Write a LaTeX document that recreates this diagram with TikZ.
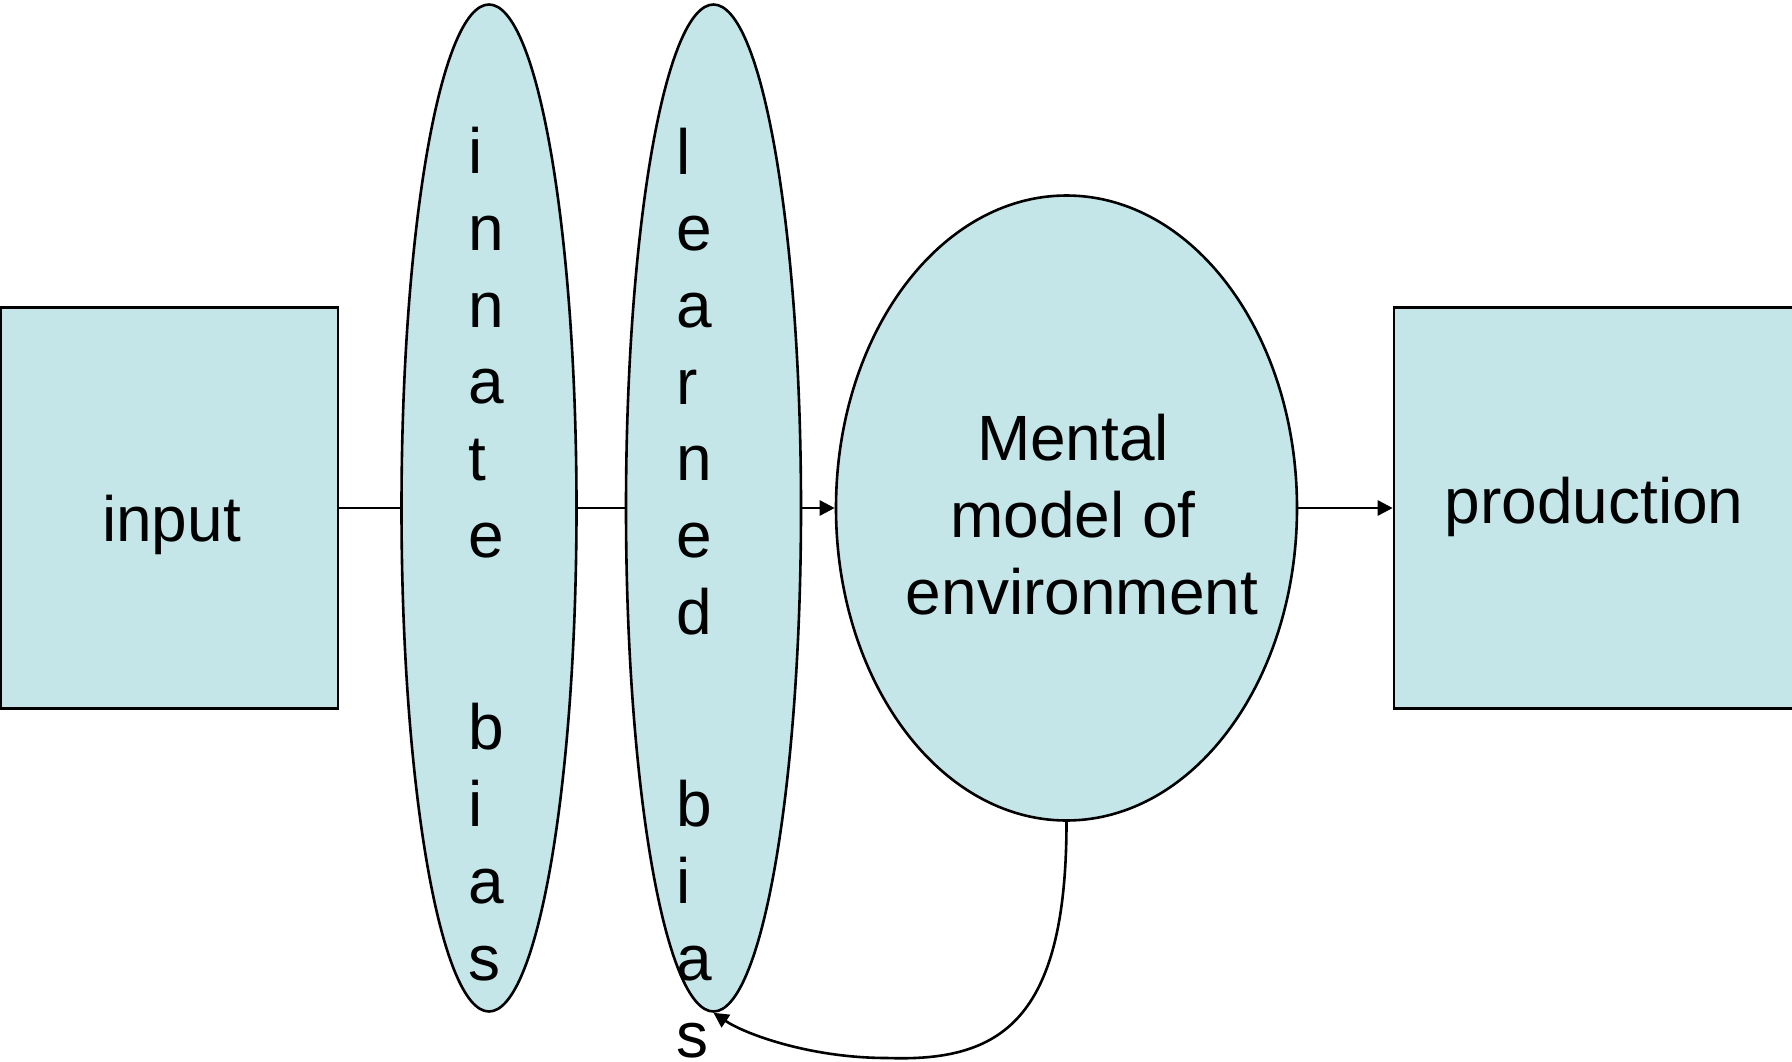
\documentclass[tikz,border=0pt]{standalone}
\usepackage{fontspec}
\setmainfont{Liberation Sans}
\usetikzlibrary{shapes.geometric,arrows.meta}
\definecolor{panel}{RGB}{196,230,232}
% a space that survives at the end of a centred line
\newcommand\trailsp{\hbox{\ }}
\begin{document}
\begin{tikzpicture}[x=1pt,y=-1pt,
  every node/.style={inner sep=0pt},
  shapebox/.style={draw=black, line width=2.6pt, fill=panel},
  txt/.style={font=\fontsize{64}{76.7}\selectfont, text=black},
  link/.style={line width=2.6pt},
  flow/.style={link, -{Triangle[length=15pt,width=15pt]}}]
\clip (0,0) rectangle (1792,1062);

% boxes and ellipses
\node[shapebox, rectangle, minimum width=337pt, minimum height=401pt] (input) at (169.5,508) {};
\node[shapebox, rectangle, minimum width=420pt, minimum height=401pt] (production) at (1604,508) {};
\node[shapebox, ellipse, minimum width=175pt, minimum height=1007pt] (innate) at (489,508) {};
\node[shapebox, ellipse, minimum width=175pt, minimum height=1007pt] (learned) at (713.5,508) {};
\node[shapebox, ellipse, minimum width=461pt, minimum height=625pt] (mental) at (1066.5,508) {};

% labels (a multi-line node sits on the baseline of its last line)
\node[txt, anchor=base] (inputlabel) at (171.5,541) {input};
\node[txt, anchor=base] (productionlabel) at (1594,523) {production};
\node[txt, align=center, anchor=base] (mentallabel) at (1082,614)
  {Mental\trailsp\\model of\trailsp\\environment};
\node[txt, align=left, anchor=base west] (innatelabel) at (468,980)
  {i\\n\\n\\a\\t\\e\\[116pt]b\\i\\a\\s};
\node[txt, align=left, anchor=base west] (learnedlabel) at (676,1057)
  {l\\e\\a\\r\\n\\e\\d\\[116pt]b\\i\\a\\s};

% connectors
\draw[link] (input.east) -- (innate.west);
\draw[link] (innate.east) -- (learned.west);
\draw[flow] (learned.east) -- (mental.west);
\draw[flow] (mental.east) -- (production.west);
\coordinate (loopbottom) at (887,1058);
\draw[flow] (mental.south) .. controls +(0,200) and (1000,1062) .. (loopbottom)
  .. controls (810,1058) and (745,1034) .. (learned.south);
\end{tikzpicture}
\end{document}
